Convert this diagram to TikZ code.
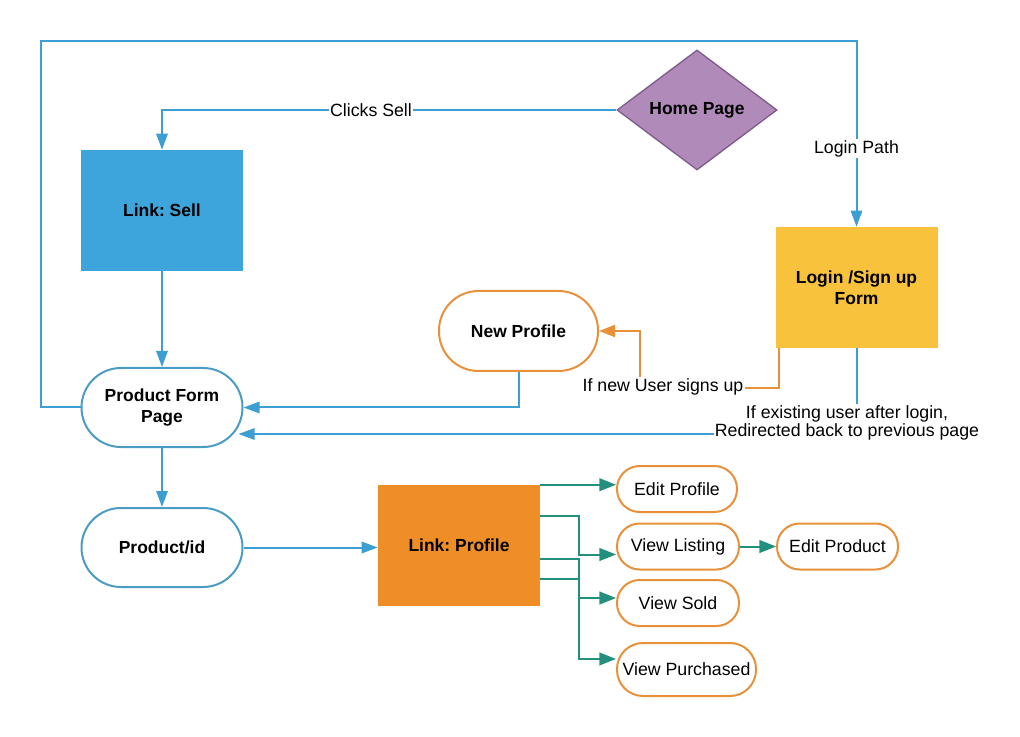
\documentclass[tikz,border=0pt]{standalone}
\usepackage{fontspec}
\setmainfont{Liberation Sans}
\usetikzlibrary{arrows.meta,shapes.geometric,calc}
\definecolor{cblue}{HTML}{3D9ED3}
\definecolor{cbord}{HTML}{4A9CC4}
\definecolor{csell}{HTML}{3DA5DC}
\definecolor{cyel}{HTML}{F9C23C}
\definecolor{corg}{HTML}{EF8E27}
\definecolor{corl}{HTML}{E8913A}
\definecolor{cpur}{HTML}{B08BBA}
\definecolor{cpurd}{HTML}{7F5A8F}
\definecolor{cteal}{HTML}{23907F}
\frenchspacing
\begin{document}
\begin{tikzpicture}[x=0.75pt,y=-0.75pt,
  font=\fontsize{13.3pt}{13.6pt}\selectfont,
  boxnode/.style={rectangle,minimum width=121.5pt,minimum height=90.75pt,align=center,font=\fontsize{13.1pt}{15.5pt}\selectfont\bfseries,inner sep=2pt},
  stad/.style={rectangle,draw=cbord,line width=1.5pt,rounded corners=29.6pt,minimum width=120.75pt,minimum height=59.25pt,align=center,font=\fontsize{13.1pt}{15.75pt}\selectfont\bfseries,fill=white},
  ostad/.style={rectangle,draw=corl,line width=1.5pt,rounded corners=17pt,minimum height=34.5pt,align=center,fill=white,inner sep=1pt},
  bl/.style={draw=cblue,line width=1.5pt,-{Triangle[length=12pt,width=8.5pt]}},
  orl/.style={draw=corl,line width=1.5pt,-{Triangle[length=12pt,width=9pt]}},
  tl/.style={draw=cteal,line width=1.5pt,-{Triangle[length=12.5pt,width=9.5pt]}},
  lbl/.style={fill=white,inner sep=1pt,align=center}
]
\useasboundingbox (0,0) rectangle (1020,737);

% nodes
\node[diamond,fill=cpur,draw=cpurd,line width=1pt,minimum width=120pt,minimum height=90pt,inner sep=0pt,font=\fontsize{13.1pt}{15pt}\selectfont\bfseries] (home) at (697,110) {Home Page};
\node[boxnode,fill=csell] (sell) at (162,210.5) {Link: Sell};
\node[boxnode,fill=cyel] (login) at (856.5,287.5) {Login /Sign up\\Form};
\node[stad,draw=corl,minimum width=119.25pt,minimum height=60pt] (np) at (518.5,331) {New Profile};
\node[stad] (pf) at (162,407.5) {Product Form\\Page};
\node[stad] (pid) at (162,547.5) {Product/id};
\node[boxnode,fill=corg] (lp) at (459,545.5) {Link: Profile};
\node[ostad,minimum width=90pt] (ep) at (677,489) {Edit Profile};
\node[ostad,minimum width=91.5pt] (vl) at (678,546.5) {View Listing};
\node[ostad,minimum width=90.75pt] (edp) at (837.5,546.5) {Edit Product};
\node[ostad,minimum width=91.5pt] (vs) at (678,603) {View Sold};
\node[ostad,minimum width=104.25pt,minimum height=39.75pt,rounded corners=19.5pt] (vp) at (686.5,669.5) {View Purchased};

\coordinate (tlc) at (41,41);
\coordinate (oc) at (640,388);

% blue connectors
\draw[bl] (home.west) -| (sell.north) node[lbl,pos=0.27] {Clicks Sell};
\draw[bl] (pf.west) -| (tlc) -| (login.north) node[lbl,pos=0.79] {Login Path};
\draw[bl] (sell.south) -- (pf.north);
\draw[bl] (np.south) |- (pf.east);
\draw[bl] (login.south) |- ($(pf.east)+(-5,26.5)$);
\node[lbl] (exl) at (847,423) {If existing user after login,\\Redirected back to previous page};
\draw[bl] (pf.south) -- (pid.north);
\draw[bl] (pid.east) -- (lp.west |- pid.east);

% orange connector
\draw[orl] ([xshift=3pt]login.south west) |- (oc) -- (oc |- np.east) -- (np.east);
\node[lbl] (nul) at (663,387) {If new User signs up};

% teal connectors
\draw[tl] (lp.north east) -- (ep.west |- lp.north east);
\draw[tl] ([yshift=-23.25pt]lp.north east) -- ++(39,0) |- ([yshift=-6pt]vl.west);
\draw[tl] ([yshift=-55.5pt]lp.north east) -- ++(39,0) |- ([yshift=3.75pt]vs.west);
\draw[tl] ([yshift=-70.5pt]lp.north east) -- ++(39,0) |- ([yshift=7.9pt]vp.west);
\draw[tl] (vl.east) -- (edp.west);
\end{tikzpicture}
\end{document}
